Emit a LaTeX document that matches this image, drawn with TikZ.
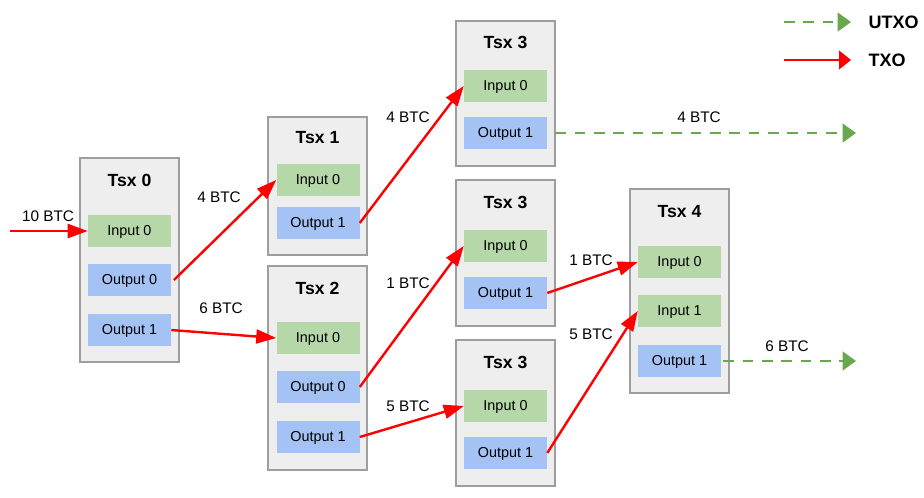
\documentclass[tikz,border=0pt]{standalone}
\usepackage{fontspec}
\setmainfont{Liberation Sans}
\usetikzlibrary{arrows.meta}

\definecolor{txbg}{HTML}{EEEEEE}
\definecolor{txline}{HTML}{9E9E9E}
\definecolor{ingreen}{HTML}{B6D7A8}
\definecolor{outblue}{HTML}{A4C2F4}
\definecolor{utxogreen}{HTML}{6AA84F}

\tikzset{
  txbox/.style={draw=txline,fill=txbg,line width=1.2pt,minimum width=74.25pt,inner sep=0pt},
  txtitle/.style={font=\fontsize{13.2}{15}\selectfont\bfseries},
  port/.style={minimum width=62.25pt,minimum height=24pt,inner sep=0pt,text height=1.6ex,text depth=0.3ex,font=\fontsize{10.8}{12}\selectfont},
  inport/.style={port,fill=ingreen},
  outport/.style={port,fill=outblue},
  lbl/.style={font=\fontsize{11.5}{13}\selectfont},
  legendtext/.style={anchor=west,font=\fontsize{13.5}{16}\selectfont\bfseries},
  txo/.style={draw=red,line width=1.8pt,-{Triangle[length=15pt,width=10.5pt]}},
  utxo/.style={draw=utxogreen,line width=1.7pt,dash pattern=on 8pt off 6.5pt,-{Triangle[length=10pt,width=14pt]}}
}

\begin{document}
\begin{tikzpicture}[x=0.75pt,y=-0.75pt]
\useasboundingbox (0,0) rectangle (924,497);

% Tsx 0
\node[txbox,minimum height=153pt](t0) at (129.5,260){};
\node[txtitle](t0t) at (129.5,180){Tsx 0};
\node[inport](t0i0) at (129.5,231){Input 0};
\node[outport](t0o0) at (129.5,280){Output 0};
\node[outport](t0o1) at (129.5,330){Output 1};

% Tsx 1
\node[txbox,minimum height=103.5pt](t1) at (317.5,186){};
\node[txtitle](t1t) at (317.5,138){Tsx 1};
\node[inport](t1i0) at (318,180){Input 0};
\node[outport](t1o1) at (318,223){Output 1};

% Tsx 2
\node[txbox,minimum height=153pt](t2) at (317.5,368){};
\node[txtitle](t2t) at (317.5,288){Tsx 2};
\node[inport](t2i0) at (318,338){Input 0};
\node[outport](t2o0) at (318,387){Output 0};
\node[outport](t2o1) at (318,437){Output 1};

% Tsx 3 (top)
\node[txbox,minimum height=108.75pt](t3a) at (505.5,93.5){};
\node[txtitle](t3at) at (505.5,42){Tsx 3};
\node[inport](t3ai0) at (505.5,86){Input 0};
\node[outport](t3ao1) at (505.5,133){Output 1};

% Tsx 3 (middle)
\node[txbox,minimum height=109.5pt](t3b) at (505.5,253){};
\node[txtitle](t3bt) at (505.5,202){Tsx 3};
\node[inport](t3bi0) at (505.5,246){Input 0};
\node[outport](t3bo1) at (505.5,293){Output 1};

% Tsx 3 (bottom)
\node[txbox,minimum height=109.5pt](t3c) at (505.5,413){};
\node[txtitle](t3ct) at (505.5,362){Tsx 3};
\node[inport](t3ci0) at (505.5,406){Input 0};
\node[outport](t3co1) at (505.5,453){Output 1};

% Tsx 4
\node[txbox,minimum height=153pt](t4) at (679.5,291){};
\node[txtitle](t4t) at (679.5,212){Tsx 4};
\node[inport](t4i0) at (679.5,262){Input 0};
\node[inport](t4i1) at (679.5,311){Input 1};
\node[outport](t4o1) at (679.5,361){Output 1};

% free ends
\coordinate (src) at (10,231);
\coordinate (sinka) at (856,133);
\coordinate (sinkb) at (856,361);

% spent outputs
\draw[txo] (src) -- (t0i0.west);
\draw[txo] ([xshift=2pt]t0o0.east) -- (t1i0.west);
\draw[txo] (t0o1.east) -- (t2i0.west);
\draw[txo] (t1o1.east) -- (t3ai0.west);
\draw[txo] (t2o0.east) -- (t3bi0.west);
\draw[txo] (t2o1.east) -- (t3ci0.west);
\draw[txo] (t3bo1.east) -- (t4i0.west);
\draw[txo] (t3co1.east) -- (t4i1.west);

% unspent outputs
\draw[utxo,shorten <=6pt] (t3ao1.east) -- (sinka);
\draw[utxo,shorten <=1.5pt] (t4o1.east) -- (sinkb);

% amounts
\node[lbl](l0) at (48,216){10 BTC};
\node[lbl](l1) at (219,197){4 BTC};
\node[lbl](l2) at (221,308){6 BTC};
\node[lbl](l3) at (408,117){4 BTC};
\node[lbl](l4) at (408,283){1 BTC};
\node[lbl](l5) at (408,406){5 BTC};
\node[lbl](l6) at (591,260){1 BTC};
\node[lbl](l7) at (591,334){5 BTC};
\node[lbl](l8) at (699,117){4 BTC};
\node[lbl](l9) at (787,346){6 BTC};

% legend
\coordinate (lga) at (784,22);
\coordinate (lgb) at (851,22);
\coordinate (lgc) at (784,60);
\coordinate (lgd) at (851,60);
\draw[utxo] (lga) -- (lgb);
\draw[draw=red,line width=1.8pt,-{Triangle[length=9pt,width=14pt]}] (lgc) -- (lgd);
\node[legendtext](utxol) at (864,22){UTXO};
\node[legendtext](txol) at (864,60){TXO};
\end{tikzpicture}
\end{document}
